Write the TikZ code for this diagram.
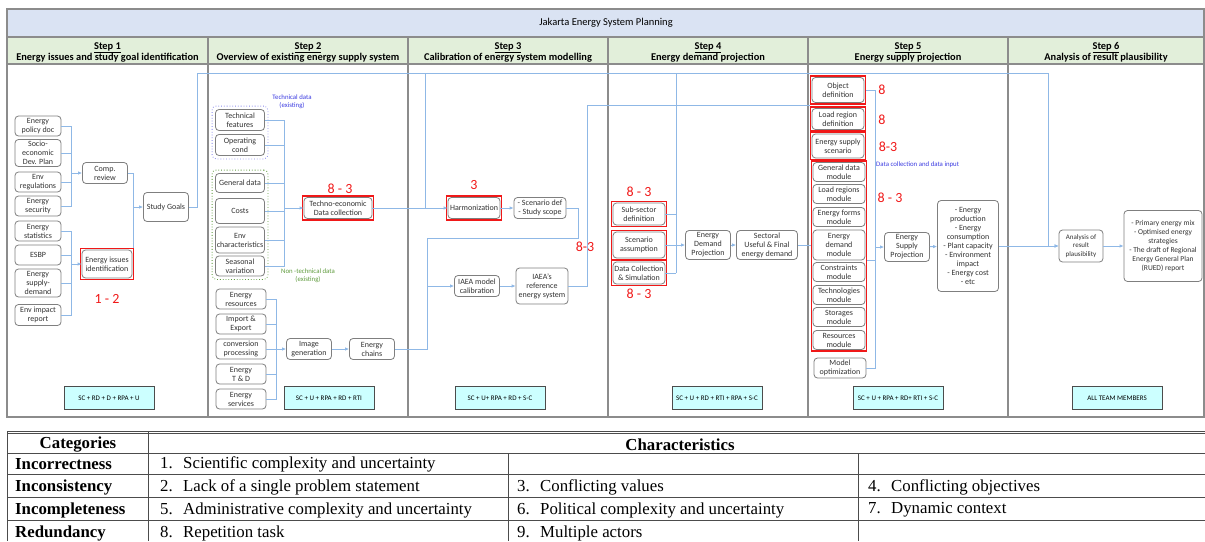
\documentclass[tikz,border=0pt]{standalone}
\usepackage{fontspec}
\setmainfont{Carlito}
\newfontfamily\tablefont{Liberation Serif}
\usetikzlibrary{arrows.meta,fit}

\definecolor{titleblue}{HTML}{DAE3F3}
\definecolor{headgreen}{HTML}{E2EFDA}
\definecolor{linkblue}{HTML}{8FB8E6}
\definecolor{boxgray}{HTML}{7F7F7F}
\definecolor{framegray}{HTML}{8C8C8C}
\definecolor{teamcyan}{HTML}{CCFFFF}
\definecolor{techblue}{HTML}{3A3AE0}
\definecolor{nontechgreen}{HTML}{5E9A3C}
\definecolor{markred}{HTML}{F01818}

\tikzset{
  frame/.style = {draw=framegray, line width=1.1pt},
  block/.style = {draw=boxgray, fill=white, rounded corners=3.5pt, align=center,
    line width=0.8pt, inner sep=0.5pt, text=black!80,
    font=\fontsize{8}{9}\selectfont},
  team/.style = {draw=black!70, fill=teamcyan, line width=0.8pt, align=center,
    minimum width=90, minimum height=23, font=\fontsize{7}{8}\selectfont},
  redbox/.style = {draw=markred, line width=1.6pt, inner sep=1.2pt},
  redmark/.style = {text=markred, font=\fontsize{14}{14}\selectfont},
  conn/.style = {draw=linkblue, line width=0.9pt},
  flow/.style = {conn, -{Latex[length=4pt,width=3.5pt]}},
  stephead/.style = {align=center, font=\fontsize{10.4}{11.5}\selectfont\bfseries},
  cell/.style = {anchor=west, inner sep=0pt, font=\tablefont\fontsize{16.8}{17}\selectfont},
  cellhead/.style = {inner sep=0pt, font=\tablefont\bfseries\fontsize{16.8}{17}\selectfont}
}

\begin{document}
\begin{tikzpicture}[x=1pt, y=-1pt]
  \useasboundingbox (0,0) rectangle (1205,541);

  % title and columns
  \draw [frame, fill=titleblue] (7,9) rectangle (1204,37);
  \node [font=\fontsize{10.5}{12}\selectfont] (title) at (606,23) {Jakarta Energy System Planning};

  \draw [frame, fill=headgreen] (7,37) rectangle (208,64);
  \draw [frame, fill=headgreen] (208,37) rectangle (408,64);
  \draw [frame, fill=headgreen] (408,37) rectangle (608,64);
  \draw [frame, fill=headgreen] (608,37) rectangle (808,64);
  \draw [frame, fill=headgreen] (808,37) rectangle (1008,64);
  \draw [frame, fill=headgreen] (1008,37) rectangle (1204,64);

  \draw [frame] (7,64) rectangle (208,417);
  \draw [frame] (208,64) rectangle (408,417);
  \draw [frame] (408,64) rectangle (608,417);
  \draw [frame] (608,64) rectangle (808,417);
  \draw [frame] (808,64) rectangle (1008,417);
  \draw [frame] (1008,64) rectangle (1204,417);

  \node [stephead] (head1) at (107.5,52.5) {\underline{Step 1}\\Energy issues and study goal identification};
  \node [stephead] (head2) at (308,52.5) {\underline{Step 2}\\Overview of existing energy supply system};
  \node [stephead] (head3) at (508,52.5) {\underline{Step 3}\\Calibration of energy system modelling};
  \node [stephead] (head4) at (708,52.5) {\underline{Step 4}\\Energy demand projection};
  \node [stephead] (head5) at (908,52.5) {\underline{Step 5}\\Energy supply projection};
  \node [stephead] (head6) at (1106,52.5) {\underline{Step 6}\\Analysis of result plausibility};

  % Step 1
  % modules
  \node [block, minimum width=46, minimum height=20] (policy) at (38,126) {Energy\\policy doc};
  \node [block, minimum width=46, minimum height=27] (socio) at (38,153) {Socio-\\economic\\Dev. Plan};
  \node [block, minimum width=46, minimum height=20] (envreg) at (38,182) {Env\\regulations};
  \node [block, minimum width=46, minimum height=20] (security) at (38,206) {Energy\\security};
  \node [block, minimum width=46, minimum height=20] (statistics) at (38,231) {Energy\\statistics};
  \node [block, minimum width=46, minimum height=20] (esbp) at (38,255) {ESBP};
  \node [block, minimum width=46, minimum height=28] (supply) at (38,283) {Energy\\supply-\\demand};
  \node [block, minimum width=46, minimum height=21] (envimpact) at (38,315) {Env impact\\report};
  \node [block, minimum width=45, minimum height=21] (comp) at (105,173) {Comp.\\review};
  \node [block, minimum width=50, minimum height=28] (issues) at (107,264) {Energy issues\\identification};
  \node [block, minimum width=45, minimum height=29] (goals) at (166,207) {Study Goals};
  \node [redbox, fit=(issues)] (issuesred) {};
  \node [redmark] (mark12) at (107,299) {1 - 2};
  \node [team] (team1) at (109,398) {SC + RD + D + RPA + U};

  % Step 2
  % modules
  \node [block, minimum width=49, minimum height=21] (techfeat) at (240,120) {Technical\\features};
  \node [block, minimum width=49, minimum height=21] (opcond) at (240,145) {Operating\\cond};
  \node [block, minimum width=49, minimum height=19] (general) at (240,183) {General data};
  \node [block, minimum width=49, minimum height=25] (costs) at (240,211) {Costs};
  \node [block, minimum width=49, minimum height=26] (envchar) at (240,240) {Env\\characteristics};
  \node [block, minimum width=49, minimum height=20] (seasonal) at (240,266) {Seasonal\\variation};
  \node [draw=techblue!60, dotted, rounded corners=4pt, line width=0.8pt, inner sep=3pt, fit=(techfeat)(opcond)] (techgroup) {};
  \node [draw=nontechgreen, dotted, rounded corners=4pt, line width=0.8pt, inner sep=3pt, fit=(general)(seasonal)] (nontechgroup) {};
  \node [text=techblue, align=center, font=\fontsize{6.8}{8}\selectfont] (techlabel) at (292,102) {Technical data\\(existing)};
  \node [text=nontechgreen, align=center, font=\fontsize{6.8}{8}\selectfont] (nontechlabel) at (308,276) {Non -technical data\\(existing)};
  \node [block, minimum width=68, minimum height=21] (techno) at (338,208) {Techno-economic\\Data collection};
  \node [redbox, fit=(techno)] (technored) {};
  \node [redmark] (mark83a) at (340,189) {8 - 3};

  \node [block, minimum width=50, minimum height=20] (resources) at (241,299) {Energy\\resources};
  \node [block, minimum width=50, minimum height=20] (importexp) at (241,324) {Import \&\\Export};
  \node [block, minimum width=50, minimum height=20] (conversion) at (241,349) {conversion\\processing};
  \node [block, minimum width=50, minimum height=20] (td) at (241,374) {Energy\\T \& D};
  \node [block, minimum width=50, minimum height=20] (services) at (241,399) {Energy\\services};
  \node [block, minimum width=45, minimum height=21] (imagegen) at (309,349) {Image\\generation};
  \node [block, minimum width=45, minimum height=21] (chains) at (372,349) {Energy\\chains};
  \node [team] (team2) at (329,398) {SC + U + RPA + RD + RTI};

  % Step 3
  % modules
  \node [block, minimum width=52, minimum height=21] (harm) at (474,208) {Harmonization};
  \node [redbox, fit=(harm)] (harmred) {};
  \node [redmark] (mark3) at (474,185) {3};
  \node [block, minimum width=52, minimum height=21] (scen) at (540,208) {- Scenario def\\- Study scope};
  \node [block, minimum width=45, minimum height=21] (calib) at (477,286) {IAEA model\\calibration};
  \node [block, minimum width=52, minimum height=36] (iaearef) at (542,286) {IAEA's\\reference\\energy system};
  \node [redmark] (mark83b) at (585,247) {8-3};
  \node [team] (team3) at (500,398) {SC + U+ RPA + RD + S-C};

  % Step 4
  % modules
  \node [block, minimum width=52, minimum height=22] (subsector) at (639,214) {Sub-sector\\definition};
  \node [block, minimum width=52, minimum height=26] (scenario) at (639,245) {Scenario\\assumption};
  \node [block, minimum width=52, minimum height=22] (datacoll) at (639,273) {Data Collection\\\& Simulation};
  \node [redbox, fit=(subsector)] (subsectorred) {};
  \node [redbox, fit=(scenario)] (scenariored) {};
  \node [redbox, fit=(datacoll)] (datacollred) {};
  \node [redmark] (mark83c) at (639,192) {8 - 3};
  \node [redmark] (mark83d) at (639,294) {8 - 3};
  \node [block, minimum width=45, minimum height=29] (edp) at (708,245) {Energy\\Demand\\Projection};
  \node [block, minimum width=61, minimum height=29] (sectoral) at (767,245) {Sectoral\\Useful \& Final\\energy demand};
  \node [team] (team4) at (717,398) {SC + U + RD + RTI + RPA + S-C};

  % Step 5
  % modules
  \node [block, minimum width=52, minimum height=25] (objdef) at (838,90) {Object\\definition};
  \node [block, minimum width=52, minimum height=21] (loadreg) at (838,119) {Load region\\definition};
  \node [block, minimum width=52, minimum height=24] (supscen) at (838,146) {Energy supply\\scenario};
  \node [redbox, fit=(objdef)] (objdefred) {};
  \node [redbox, fit=(loadreg)] (loadregred) {};
  \node [redbox, fit=(supscen)] (supscenred) {};
  \node [redmark] (mark8a) at (882,90) {8};
  \node [redmark] (mark8b) at (882,120) {8};
  \node [redmark] (mark83e) at (888,147) {8-3};
  \node [text=techblue, anchor=west, inner sep=0pt, font=\fontsize{6.8}{8}\selectfont] (inputlabel) at (876,165) {Data collection and data input};

  \node [block, minimum width=52, minimum height=19] (gendata) at (839,172) {General data\\module};
  \node [block, minimum width=52, minimum height=19] (loadmod) at (839,194) {Load regions\\module};
  \node [block, minimum width=52, minimum height=19] (formsmod) at (839,217) {Energy forms\\module};
  \node [block, minimum width=52, minimum height=30] (edmod) at (839,245) {Energy\\demand\\module};
  \node [block, minimum width=52, minimum height=19] (constr) at (839,272) {Constraints\\module};
  \node [block, minimum width=52, minimum height=19] (techmod) at (839,295) {Technologies\\module};
  \node [block, minimum width=52, minimum height=19] (stormod) at (839,317) {Storages\\module};
  \node [block, minimum width=52, minimum height=19] (resmod) at (839,340) {Resources\\module};
  \node [redbox, fit=(gendata)(resmod)] (modgroup) {};
  \node [redmark] (mark83f) at (890,198) {8 - 3};
  \node [block, minimum width=52, minimum height=20] (modelopt) at (840,368) {Model\\optimization};
  \node [block, minimum width=45, minimum height=29] (esp) at (907,247) {Energy\\Supply\\Projection};
  \node [block, minimum width=61, minimum height=91] (results) at (968,246) {- Energy\\production\\- Energy\\consumption\\- Plant capacity\\- Environment\\impact\\- Energy cost\\- etc};
  \node [team] (team5) at (898,398) {SC + U + RPA + RD+ RTI + S-C};

  % Step 6
  % modules
  \node [block, minimum width=44, minimum height=32, font=\fontsize{7}{8.5}\selectfont] (analysis) at (1081,246) {Analysis of\\result\\plausibility};
  \node [block, minimum width=78, minimum height=71, font=\fontsize{7.5}{9}\selectfont] (final) at (1163,246) {- Primary energy mix\\- Optimised energy\\strategies\\- The draft of Regional\\Energy General Plan\\(RUED) report};
  \node [team] (team6) at (1117,398) {ALL TEAM MEMBERS};

  % lines
  \coordinate (bus1a) at (71,173);
  \coordinate (bus1b) at (71,264);
  \coordinate (bus1c) at (133,207);
  \draw [conn] (policy.east) -| (bus1a);
  \draw [conn] (socio.east) -| (bus1a);
  \draw [conn] (envreg.east) -| (bus1a);
  \draw [conn] (security.east) -| (bus1a);
  \draw [flow] (bus1a) -- (comp.west);
  \draw [conn] (statistics.east) -| (bus1b);
  \draw [conn] (esbp.east) -| (bus1b);
  \draw [conn] (supply.east) -| (bus1b);
  \draw [conn] (envimpact.east) -| (bus1b);
  \draw [flow] (bus1b) -- (issues.west);
  \draw [conn] (comp.east) -| (bus1c);
  \draw [conn] (bus1c) -- (bus1c |- issuesred.north);
  \draw [flow] (bus1c) -- (goals.west);

  \coordinate (top1) at (197,73);
  \coordinate (top3) at (425,73);
  \coordinate (top4) at (676,73);
  \coordinate (top6) at (1048,73);
  \draw [flow] (goals.east) -| (top1) -- (top6) |- (analysis.west);
  \draw [conn] (top3) -- (top3 |- harm.west);
  \draw [conn] (top4) -- (top4 |- datacoll.east);

  \coordinate (bus2a) at (284,208);
  \coordinate (bus2b) at (276,349);
  \draw [conn] (techfeat.east) -| (bus2a);
  \draw [conn] (opcond.east) -| (bus2a);
  \draw [conn] (general.east) -| (bus2a);
  \draw [conn] (costs.east) -| (bus2a);
  \draw [conn] (envchar.east) -| (bus2a);
  \draw [conn] (seasonal.east) -| (bus2a);
  \draw [flow] (bus2a) -- (techno.west);
  \draw [flow] (techno.east) -- (harm.west);
  \draw [conn] (resources.east) -| (bus2b);
  \draw [conn] (importexp.east) -| (bus2b);
  \draw [conn] (conversion.east) -| (bus2b);
  \draw [conn] (td.east) -| (bus2b);
  \draw [conn] (services.east) -| (bus2b);
  \draw [flow] (bus2b) -- (imagegen.west);
  \draw [flow] (imagegen) -- (chains);

  \coordinate (s3a) at (578,238);
  \coordinate (s3b) at (427,238);
  \coordinate (turn3) at (587,105);
  \draw [flow] (harm) -- (scen);
  \draw [conn] (scen.east) -| (s3a) -- (s3b) |- (chains.east);
  \draw [flow] (s3b |- calib.west) -- (calib.west);
  \draw [flow] (calib) -- (iaearef);
  \draw [conn] (iaearef.east) -| (turn3) -- (turn3 -| loadregred.west);

  \draw [conn] (subsector.east) -- (subsector.east -| top4);
  \draw [conn] (datacoll.east) -- (datacoll.east -| top4);
  \draw [flow] (scenario.east) -- (edp.west);
  \draw [flow] (edp) -- (sectoral);
  \draw [conn] (sectoral.east) -- (modgroup.west |- sectoral.east);

  \coordinate (bus5) at (875,247);
  \draw [conn] (objdefred.east |- objdef.east) -| (bus5);
  \draw [conn] (modelopt.east) -| (bus5);
  \draw [conn] (modgroup.east |- edmod.south) -- (bus5 |- edmod.south);
  \draw [flow] (bus5) -- (esp.west);
  \draw [flow] (esp) -- (results);
  \draw [flow] (results.east) -- (analysis.west);
  \draw [flow] (analysis) -- (final);

  % table
  \draw [black!70, line width=0.8pt] (7,431) -- (1205,431);
  \draw [black!70, line width=0.8pt] (7,433.5) -- (1205,433.5);
  \draw [black!70, line width=0.8pt] (7,453) -- (1205,453);
  \draw [black!70, line width=0.8pt] (7,474) -- (1205,474);
  \draw [black!70, line width=0.8pt] (7,497) -- (1205,497);
  \draw [black!70, line width=0.8pt] (7,520) -- (1205,520);
  \draw [black!70, line width=0.8pt] (7,431) -- (7,541);
  \draw [black!70, line width=0.8pt] (148,431) -- (148,541);
  \draw [black!70, line width=0.8pt] (508,453) -- (508,541);
  \draw [black!70, line width=0.8pt] (858,453) -- (858,541);

  \node [cellhead] (categories) at (78,444.5) {Categories};
  \node [cellhead] (characteristics) at (680,444.5) {Characteristics};
  \node [cell, font=\tablefont\bfseries\fontsize{16.8}{17}\selectfont] (incorrect) at (15,464.5) {Incorrectness};
  \node [cell, font=\tablefont\bfseries\fontsize{16.8}{17}\selectfont] (inconsist) at (15,487) {Inconsistency};
  \node [cell, font=\tablefont\bfseries\fontsize{16.8}{17}\selectfont] (incomplete) at (15,510) {Incompleteness};
  \node [cell, font=\tablefont\bfseries\fontsize{16.8}{17}\selectfont] (redundant) at (15,533) {Redundancy};
  \node [cell] (char1) at (160,464.5) {\makebox[23pt][l]{1.}Scientific complexity and uncertainty};
  \node [cell] (char2) at (160,487) {\makebox[23pt][l]{2.}Lack of a single problem statement};
  \node [cell] (char5) at (160,510) {\makebox[23pt][l]{5.}Administrative complexity and uncertainty};
  \node [cell] (char8) at (160,533) {\makebox[23pt][l]{8.}Repetition task};
  \node [cell] (char3) at (517,487) {\makebox[23pt][l]{3.}Conflicting values};
  \node [cell] (char6) at (517,510) {\makebox[23pt][l]{6.}Political complexity and uncertainty};
  \node [cell] (char9) at (517,533) {\makebox[23pt][l]{9.}Multiple actors};
  \node [cell] (char4) at (868,487) {\makebox[23pt][l]{4.}Conflicting objectives};
  \node [cell] (char7) at (868,510) {\makebox[23pt][l]{7.}Dynamic context};
\end{tikzpicture}
\end{document}
